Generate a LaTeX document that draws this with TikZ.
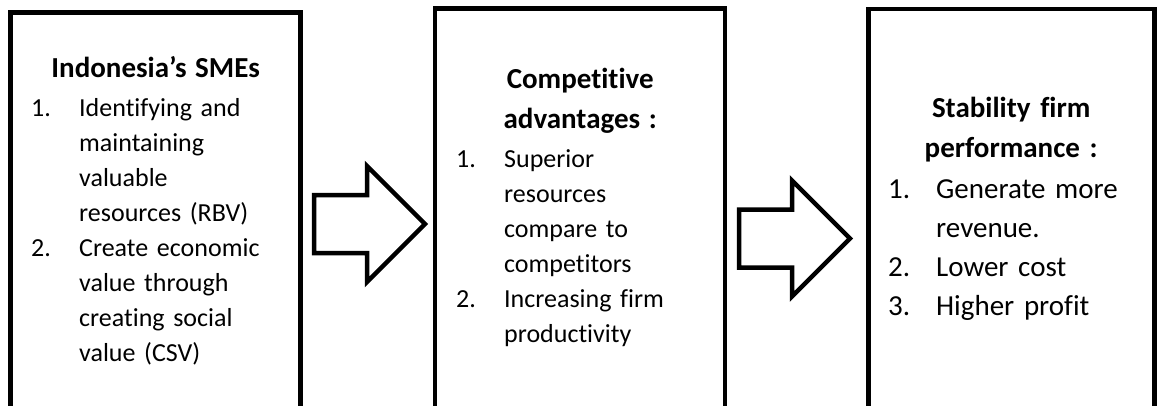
\documentclass[tikz,border=0pt]{standalone}
\usepackage{fontspec}
\setmainfont{Carlito}[Ligatures={TeX,NoCommon}]
\usetikzlibrary{shapes.arrows, positioning}

\newlength{\numgap}
\setlength{\numgap}{48pt}
\newcommand{\numitem}[2]{\par\hangindent=\numgap\hangafter=1\noindent\makebox[\numgap][l]{#1}#2\par}
\newcommand{\headfont}{\fontsize{29}{40}\selectfont\bfseries}

\begin{document}
\begin{tikzpicture}
        [x=1pt, y=-1pt,
        panel/.style={draw, line width=4.5pt, outer sep=0pt, minimum height=420pt, anchor=north west},
        blockarrow/.style={single arrow, draw, line width=4.5pt, outer sep=0pt,
          inner xsep=0pt, inner ysep=26.75pt, minimum width=112pt, minimum height=111pt,
          single arrow head extend=29pt, anchor=tail},
        itemtext/.style={anchor=base west, inner sep=0pt, font=\fontsize{26}{35}\selectfont},
        bigitemtext/.style={itemtext, font=\fontsize{29}{39}\selectfont}]

    \clip (0,0) rectangle (1157,405);

    % the three boxes
    \node[panel, minimum width=290pt] (sme) at (10.5,12.5) {};
    \node[panel, minimum width=290pt] (adv) at (435,8.5) {};
    \node[panel, minimum width=286pt] (perf) at (868.5,9) {};

    % box texts
    \node[itemtext, text width=249pt] (smetxt) at (31,77)
      {\raggedright{\centering\headfont Indonesia’s SMEs\par}\vspace{4pt}
       \numitem{1.}{Identifying and\newline maintaining\newline valuable\newline resources (RBV)}
       \numitem{2.}{Create economic\newline value through\newline creating social\newline value (CSV)}};

    \node[itemtext, text width=248pt] (advtxt) at (456,88)
      {\raggedright{\centering\headfont Competitive\\ advantages :\par}\vspace{4pt}
       \numitem{1.}{Superior\newline resources\newline compare to\newline competitors}
       \numitem{2.}{Increasing firm\newline productivity}};

    \node[bigitemtext, text width=246pt] (perftxt) at (888,117)
      {\raggedright{\centering\headfont Stability firm\\ performance :\par}\vspace{2pt}
       \numitem{1.}{Generate more\newline revenue.}
       \numitem{2.}{Lower cost}
       \numitem{3.}{Higher profit}};

    % block arrows between the boxes
    \node[blockarrow] (arr1) at (314,224) {};
    \node[blockarrow] (arr2) at (739,238.5) {};
\end{tikzpicture}
\end{document}
